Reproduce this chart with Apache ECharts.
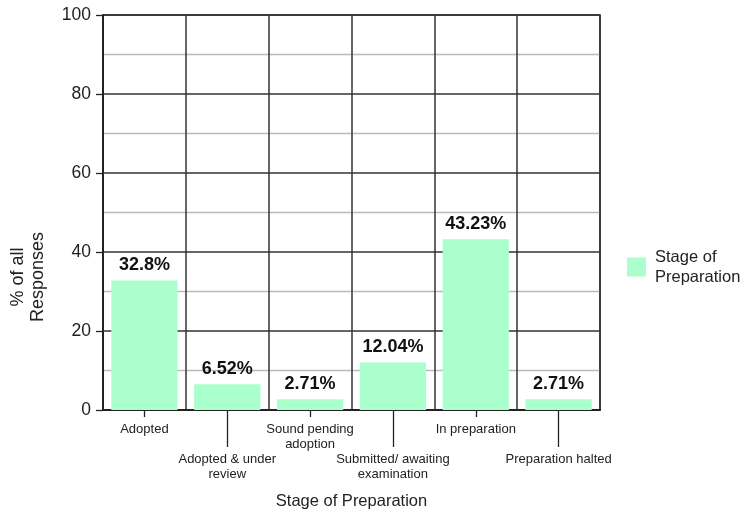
<!DOCTYPE html>
<html>
<head>
<meta charset="utf-8">
<script src="https://cdn.jsdelivr.net/npm/echarts@6/dist/echarts.min.js"></script>
<style>
  html, body { margin: 0; padding: 0; background: #fff; }
  #chart { width: 749px; height: 516px; }
</style>
</head>
<body>
<div id="chart"></div>
<script>
// Stages of preparation and share of responses (%)
const categories = [
  'Adopted',
  'Adopted & under\nreview',
  'Sound pending\nadoption',
  'Submitted/ awaiting\nexamination',
  'In preparation',
  'Preparation halted'
];
const shares = [32.8, 6.52, 2.71, 12.04, 43.23, 2.71];
const yTicks = { min: 0, max: 100, interval: 20 };
const seriesName = 'Stage of Preparation';

const FONT = '"Liberation Sans", Arial, Helvetica, sans-serif';
const INK = '#222';
const GRID_INK = '#333';

const chart = echarts.init(document.getElementById('chart'), null, { renderer: 'canvas' });

const gridBox = { left: 103, right: 149, top: 15, bottom: 106 };

chart.setOption({
  animation: false,
  textStyle: { fontFamily: FONT },
  grid: Object.assign({ show: true, borderColor: INK, borderWidth: 1.5, containLabel: false }, gridBox),
  legend: {
    orient: 'vertical',
    left: 622,
    top: 242,
    itemWidth: 19,
    itemHeight: 19,
    itemGap: 8,
    icon: 'rect',
    textStyle: { fontFamily: FONT, fontSize: 16.5, color: INK, lineHeight: 20, padding: [0, 0, 0, 4] },
    formatter: () => 'Stage of\nPreparation',
    data: [seriesName]
  },
  xAxis: [
    {
      type: 'category',
      data: categories,
      position: 'bottom',
      name: 'Stage of Preparation',
      nameLocation: 'middle',
      nameGap: 83,
      nameTextStyle: { fontFamily: FONT, fontSize: 16.5, color: INK },
      axisLine: { show: true, lineStyle: { color: INK, width: 2 } },
      axisTick: {
        show: true,
        alignWithLabel: true,
        length: 7,
        interval: (i) => i % 2 === 0,
        lineStyle: { color: INK, width: 1.3 }
      },
      axisLabel: {
        interval: 0,
        margin: 12,
        fontFamily: FONT,
        fontSize: 13,
        lineHeight: 15,
        color: INK,
        formatter: (v, i) => (i % 2 === 1 ? '\n\n' + v : v)
      },
      splitLine: { show: true, interval: 0, lineStyle: { color: GRID_INK, width: 1.5 } }
    },
    {
      // second layer carrying the long ticks under staggered labels
      type: 'category',
      data: categories,
      position: 'bottom',
      axisLine: { show: false },
      axisTick: {
        show: true,
        alignWithLabel: true,
        length: 37,
        interval: (i) => i % 2 === 1,
        lineStyle: { color: INK, width: 1.3 }
      },
      axisLabel: { show: false },
      splitLine: { show: false }
    }
  ],
  yAxis: {
    type: 'value',
    min: yTicks.min,
    max: yTicks.max,
    interval: yTicks.interval,
    axisLine: { show: true, lineStyle: { color: INK, width: 2 } },
    axisTick: { show: true, length: 7, lineStyle: { color: INK, width: 1.3 } },
    axisLabel: { fontFamily: FONT, fontSize: 17.5, color: INK, margin: 12 },
    splitLine: { show: true, lineStyle: { color: GRID_INK, width: 1.5 } },
    minorTick: { show: false, splitNumber: 2 },
    minorSplitLine: { show: true, lineStyle: { color: '#bbb', width: 1.3 } }
  },
  graphic: [
    {
      type: 'text',
      x: 28,
      y: 277,
      rotation: Math.PI / 2,
      style: {
        text: '% of all\nResponses',
        fontFamily: FONT,
        fontSize: 18,
        lineHeight: 20,
        fill: INK,
        align: 'center',
        verticalAlign: 'middle'
      }
    }
  ],
  series: [
    {
      name: seriesName,
      type: 'bar',
      xAxisIndex: 0,
      data: shares,
      barCategoryGap: '20%',
      itemStyle: { color: '#aaffcc' },
      label: {
        show: true,
        position: 'top',
        distance: 6,
        fontFamily: FONT,
        fontSize: 18,
        fontWeight: 'bold',
        color: '#111',
        formatter: (p) => p.value + '%'
      }
    }
  ]
});
</script>
</body>
</html>
